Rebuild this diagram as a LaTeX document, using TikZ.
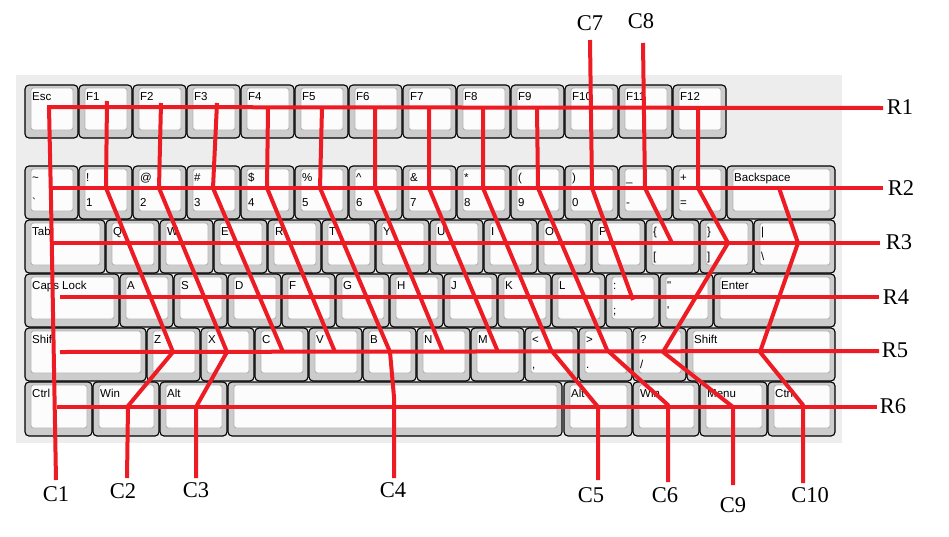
\documentclass[tikz,border=0pt]{standalone}
\usepackage{fontspec}
\setmainfont{Liberation Serif}
\newfontfamily\keyfont{Liberation Sans}[Ligatures=TeXOff]
\definecolor{panelgray}{HTML}{EDEDED}
\definecolor{keygray}{HTML}{CCCCCC}
\definecolor{keywhite}{HTML}{FCFCFC}
\definecolor{innergray}{HTML}{B4B4B4}
\definecolor{linered}{HTML}{ED1C24}
\tikzset{
  keyout/.style={fill=keygray, draw=black, line width=1.1pt, rounded corners=4pt},
  keyin/.style={fill=keywhite, draw=innergray, line width=0.9pt, rounded corners=2.5pt},
  klab/.style={anchor=base west, inner sep=0pt, font=\keyfont\fontsize{11.5}{12}\selectfont},
  redline/.style={draw=linered, line width=4pt, line join=round},
  lab/.style={inner sep=0pt, font=\fontsize{22.5}{24}\selectfont}
}
\newcommand\kbkey[5]{%
  \filldraw[keyout] (#1,#2) rectangle (#3,#4);
  \filldraw[keyin] ({#1+6},{#2+3}) rectangle ({#3-5},{#4-8});
  \node[klab] at ({#1+7},{#2+15}) {#5};
}
\newcommand\kbtwo[6]{%
  \kbkey{#1}{#2}{#3}{#4}{#5}
  \node[klab] at ({#1+7},{#2+40}) {#6};
}
\begin{document}
\begin{tikzpicture}[x=1pt,y=-1pt]
\useasboundingbox (0,0) rectangle (949,536);
\fill[white] (0,0) rectangle (949,536);
\fill[panelgray] (16,75) rectangle (842,443);
% Row 1
\kbkey{25}{85}{78}{138}{Esc}
\foreach \i in {1,...,12} {\kbkey{25+54*\i}{85}{25+54*\i+53}{138}{F\i}}
% Row 2
\kbtwo{25}{166}{78}{219}{\textasciitilde}{\textasciigrave}
\kbtwo{79}{166}{132}{219}{!}{1}
\kbtwo{133}{166}{186}{219}{@}{2}
\kbtwo{187}{166}{240}{219}{\#}{3}
\kbtwo{241}{166}{294}{219}{\$}{4}
\kbtwo{295}{166}{348}{219}{\%}{5}
\kbtwo{349}{166}{402}{219}{\textasciicircum}{6}
\kbtwo{403}{166}{456}{219}{\&}{7}
\kbtwo{457}{166}{510}{219}{*}{8}
\kbtwo{511}{166}{564}{219}{(}{9}
\kbtwo{565}{166}{618}{219}{)}{0}
\kbtwo{619}{166}{672}{219}{\_}{-}
\kbtwo{673}{166}{726}{219}{+}{=}
\kbkey{727}{166}{835}{219}{Backspace}
% Row 3
\kbkey{25}{220}{105}{273}{Tab}
\foreach \l [count=\i from 0] in {Q,W,E,R,T,Y,U,I,O,P} {\kbkey{106+54*\i}{220}{106+54*\i+53}{273}{\l}}
\kbtwo{646}{220}{699}{273}{\{}{[}
\kbtwo{700}{220}{753}{273}{\}}{]}
\kbtwo{754}{220}{835}{273}{|}{\textbackslash}
% Row 4
\kbkey{25}{274}{119}{327}{Caps Lock}
\foreach \l [count=\i from 0] in {A,S,D,F,G,H,J,K,L} {\kbkey{120+54*\i}{274}{120+54*\i+53}{327}{\l}}
\kbtwo{606}{274}{659}{327}{:}{;}
\kbtwo{660}{274}{713}{327}{\textquotedbl}{\textquotesingle}
\kbkey{714}{274}{835}{327}{Enter}
% Row 5
\kbkey{25}{328}{146}{381}{Shift}
\foreach \l [count=\i from 0] in {Z,X,C,V,B,N,M} {\kbkey{147+54*\i}{328}{147+54*\i+53}{381}{\l}}
\kbtwo{525}{328}{578}{381}{<}{,}
\kbtwo{579}{328}{632}{381}{>}{.}
\kbtwo{633}{328}{686}{381}{?}{/}
\kbkey{687}{328}{835}{381}{Shift}
% Row 6
\kbkey{25}{382}{92}{436}{Ctrl}
\kbkey{93}{382}{159}{436}{Win}
\kbkey{160}{382}{227}{436}{Alt}
\kbkey{228}{382}{562}{436}{}
\kbkey{564}{382}{632}{436}{Alt}
\kbkey{633}{382}{699}{436}{Win}
\kbkey{700}{382}{767}{436}{Menu}
\kbkey{768}{382}{835}{436}{Ctrl}
% Row lines
\coordinate (r1e) at (883,108); \coordinate (r2e) at (883,188);
\coordinate (r3e) at (880,243); \coordinate (r4e) at (879,297);
\coordinate (r5e) at (879,351); \coordinate (r6e) at (877,407);
\draw[redline] (47,107) -- (r1e);
\draw[redline] (50,188) -- (r2e);
\draw[redline] (53,243) -- (r3e);
\draw[redline] (60,297) -- (r4e);
\draw[redline] (60,352) -- (r5e);
\draw[redline] (57,407) -- (r6e);
\node[lab] (R1) at (900,107) {R1};
\node[lab] (R2) at (901,188) {R2};
\node[lab] (R3) at (899,242) {R3};
\node[lab] (R4) at (896,297) {R4};
\node[lab] (R5) at (895,350) {R5};
\node[lab] (R6) at (893,406) {R6};
% Column lines
\coordinate (c1e) at (56,480);
\coordinate (c2e) at (127,478);
\coordinate (c3e) at (196,478);
\coordinate (c4e) at (394,478);
\coordinate (c5e) at (598,480);
\coordinate (c6e) at (668,482);
\coordinate (c7s) at (590,40);
\coordinate (c8s) at (643,43);
\coordinate (c9e) at (733,485);
\coordinate (c10e) at (803,483);
\draw[redline] (49,107) -- (51,200) -- (c1e);
\draw[redline] (107,101) -- (106,188) -- (173,352) -- (128,406) -- (c2e);
\draw[redline] (161,103) -- (159,188) -- (227,352) -- (196,407) -- (c3e);
\draw[redline] (217,103) -- (213,188) -- (283,352);
\draw[redline] (268,108) -- (267,188) -- (335,352);
\draw[redline] (322,108) -- (320,188) -- (390,352) -- (394,397) -- (c4e);
\draw[redline] (375,108) -- (375,188) -- (443,352);
\draw[redline] (429,108) -- (429,188) -- (498,352);
\draw[redline] (483,108) -- (483,188) -- (551,350) -- (598,407) -- (c5e);
\draw[redline] (537,108) -- (538,188) -- (607,350) -- (668,405) -- (c6e);
\draw[redline] (c7s) -- (592,188) -- (633,300);
\draw[redline] (c8s) -- (645,188) -- (672,243);
\draw[redline] (698,108) -- (698,188) -- (728,243) -- (663,352) -- (733,407) -- (c9e);
\draw[redline] (779,188) -- (798,243) -- (760,352) -- (803,405) -- (c10e);
\node[lab] (C1) at (56,494) {C1};
\node[lab] (C2) at (123,491) {C2};
\node[lab] (C3) at (196,490) {C3};
\node[lab] (C4) at (393,490) {C4};
\node[lab] (C5) at (591,495) {C5};
\node[lab] (C6) at (665,495) {C6};
\node[lab] (C7) at (590,23) {C7};
\node[lab] (C8) at (641,21) {C8};
\node[lab] (C9) at (733,505) {C9};
\node[lab] (C10) at (810,495) {C10};
\end{tikzpicture}
\end{document}
